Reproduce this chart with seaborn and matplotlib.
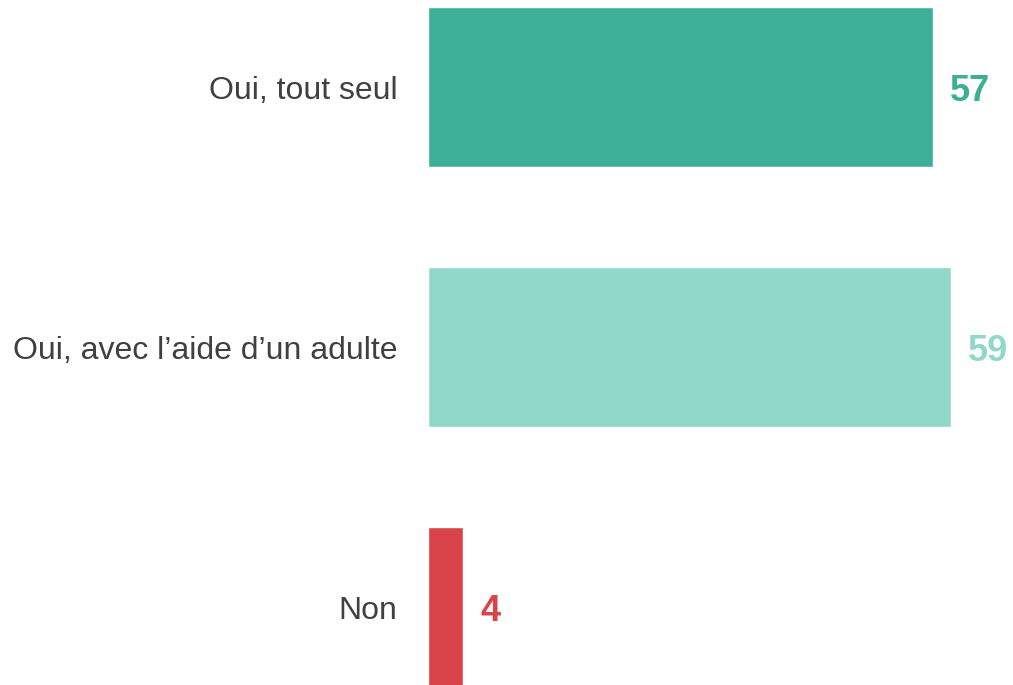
import pandas as pd
import seaborn as sns
import matplotlib.pyplot as plt

# Chart data
categories = ['Oui, tout seul', 'Oui, avec l\u2019aide d\u2019un adulte', 'Non']
values = [57, 59, 4]
colors = ['#3daf96', '#91d8ca', '#d9434a']

df = pd.DataFrame({'reponse': categories, 'pct': values})

sns.set_style('white')
plt.rcParams['font.family'] = ['Liberation Sans', 'DejaVu Sans']

fig = plt.figure(figsize=(10.13, 6.85), dpi=100)
ax = fig.add_axes([428 / 1013, 0, 585 / 1013, 1])

sns.barplot(data=df, x='pct', y='reponse', hue='reponse', palette=colors,
            order=categories, hue_order=categories, width=0.615,
            legend=False, ax=ax, saturation=1)

ax.set_xlim(0, 66)
ax.set_ylim(2.3, -0.335)
sns.despine(ax=ax, left=True, bottom=True)
ax.set_xticks([])
ax.set_xlabel('')
ax.set_ylabel('')
ax.tick_params(axis='y', length=0, pad=22, labelsize=23, labelcolor='#404040')
for lbl in ax.get_yticklabels():
    lbl.set_verticalalignment('center_baseline')

# Value labels
for i, (v, c) in enumerate(zip(values, colors)):
    ax.annotate(str(v), xy=(v, i), xytext=(17, 0), textcoords='offset pixels',
                ha='left', va='center_baseline', fontsize=26, fontweight='bold',
                color=c)

plt.savefig('out.png', dpi=100)
